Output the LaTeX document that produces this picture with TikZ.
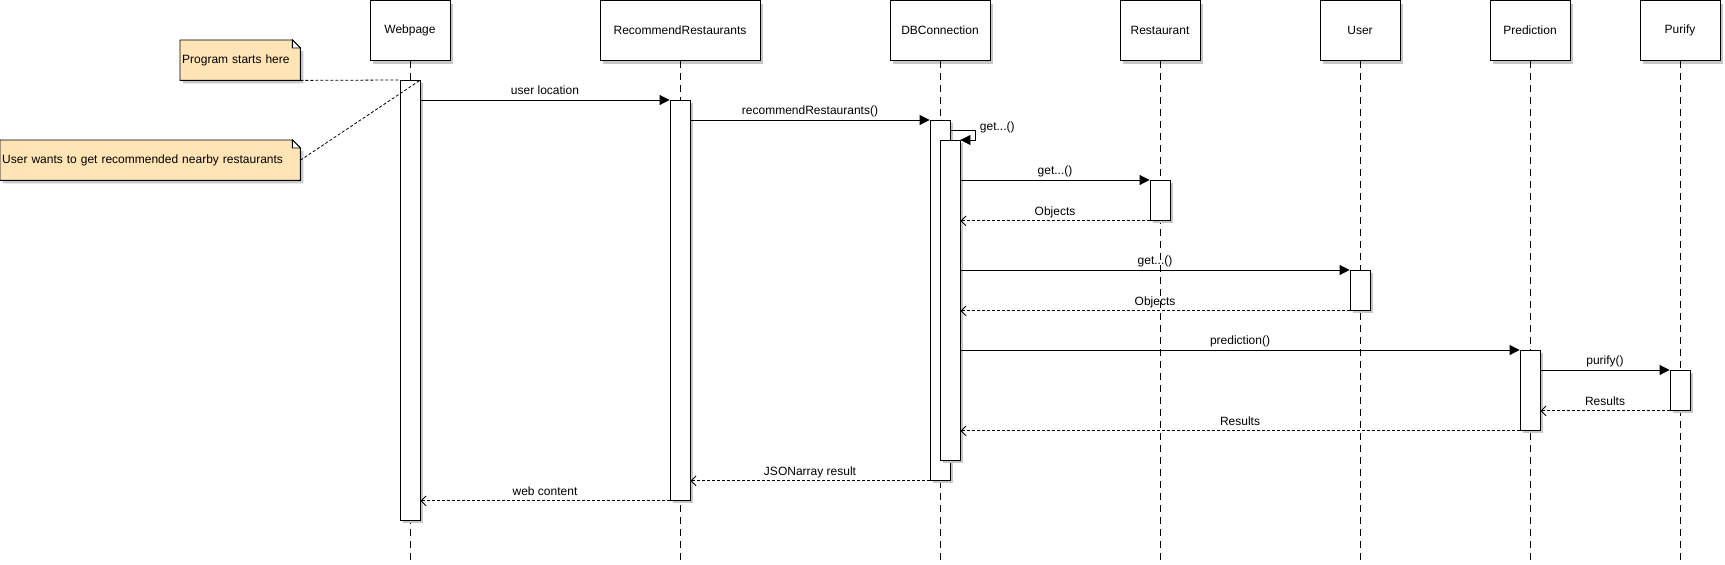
\documentclass[tikz,border=0pt]{standalone}
\usepackage{fontspec}
\setmainfont{Liberation Sans}
\usetikzlibrary{arrows.meta, positioning, shadows, backgrounds}
\definecolor{notefill}{HTML}{FFE4B5}
\tikzstyle{head} = [
rectangle, draw=black, fill=white, minimum height=60pt, inner sep=0pt, line width=0.9pt,
font=\fontsize{12}{14}\selectfont,
drop shadow={shadow xshift=3pt, shadow yshift=-3pt, fill=black!22, opacity=1}
]
\tikzstyle{act} = [
rectangle, draw=black, fill=white, minimum width=20pt, inner sep=0pt, anchor=north, line width=0.9pt,
drop shadow={shadow xshift=3pt, shadow yshift=-3pt, fill=black!22, opacity=1}
]
\tikzstyle{notebox} = [
rectangle, anchor=north west, minimum height=40pt, inner sep=2pt, align=left,
font=\fontsize{12}{14}\selectfont
]
\tikzstyle{lifeline} = [line width=0.8pt, dash pattern=on 7pt off 5pt]
\tikzstyle{noteline} = [line width=0.8pt, dash pattern=on 3pt off 2pt]
\tikzstyle{call} = [line width=0.9pt, -{Triangle[length=10pt,width=10pt]}]
\tikzstyle{reply} = [line width=0.9pt, dash pattern=on 3pt off 2pt, -{Straight Barb[length=5pt,width=10pt]}]
\tikzstyle{msg} = [midway, anchor=base, yshift=5.5pt, inner sep=0pt, font=\fontsize{12}{14}\selectfont]
\newcommand{\notefold}[1]{
  \fill[black!22] ([shift={(3pt,-3pt)}]#1.south west) -- ([shift={(3pt,-11pt)}]#1.north east) -- ([shift={(3pt,-3pt)}]#1.south east) -- cycle;
  \fill[black!22] ([shift={(3pt,-3pt)}]#1.south west) rectangle ([shift={(3pt,-11pt)}]#1.south east |- #1.north east);
  \filldraw[fill=notefill, draw=black, line width=0.9pt] (#1.south west) -- (#1.north west) -- ([xshift=-8pt]#1.north east)
    -- ([yshift=-8pt]#1.north east) -- (#1.south east) -- cycle;
  \filldraw[fill=white, draw=black, line width=0.9pt] ([xshift=-8pt]#1.north east) -- ([xshift=-8pt,yshift=-8pt]#1.north east)
    -- ([yshift=-8pt]#1.north east) -- cycle;
}

\begin{document}
\begin{tikzpicture}[x=1pt, y=-1pt]
	\useasboundingbox (0,0) rectangle (1725,565);
	\coordinate (bottom) at (0,565);

	% Lifeline heads
	\node (web) [head, minimum width=80pt] at (410,30.5) {Webpage};
	\node (rr) [head, minimum width=160pt] at (680,30.5) {RecommendRestaurants};
	\node (db) [head, minimum width=100pt] at (940,30.5) {DBConnection};
	\node (rest) [head, minimum width=80pt] at (1160,30.5) {Restaurant};
	\node (user) [head, minimum width=80pt] at (1360,30.5) {User};
	\node (pred) [head, minimum width=80pt] at (1530,30.5) {Prediction};
	\node (pur) [head, minimum width=80pt] at (1680,30.5) {Purify};

	% Lifelines
	\foreach \h in {web, rr, db, rest, user, pred, pur}
		\draw [lifeline] (\h.south) -- (\h.south |- bottom);

	% Activations
	\node (webAct) [act, minimum height=440pt] at (410,80) {};
	\node (rrAct) [act, minimum height=400pt] at (680,100) {};
	\node (dbAct) [act, minimum height=360pt] at (940,120) {};
	\node (dbSub) [act, minimum height=320pt] at (950,140) {};
	\node (restAct) [act, minimum height=40pt] at (1160,180) {};
	\node (userAct) [act, minimum height=40pt] at (1360,270) {};
	\node (predAct) [act, minimum height=80pt] at (1530,350) {};
	\node (purAct) [act, minimum height=40pt] at (1680,370) {};

	% Notes
	\node (note1) [notebox, text width=116pt] at (180,40) {Program starts here};
	\node (note2) [notebox, text width=296pt] at (0,140) {User wants to get recommended nearby restaurants};
	\begin{pgfonlayer}{background}
		\notefold{note1}
		\notefold{note2}
	\end{pgfonlayer}
	\draw [noteline] (note1.south east) -- (webAct.north west);
	\draw [noteline] (note2.east) -- (webAct.north east);

	% Calls
	\draw [call] (webAct.east |- rrAct.north) -- node[msg] {user location} (rrAct.north west);
	\draw [call] (rrAct.east |- dbAct.north) -- node[msg] {recommendRestaurants()} (dbAct.north west);
	\draw [call] ([yshift=-10pt]dbAct.north east) -- ++(25,0) node[anchor=base west, xshift=4pt, inner sep=0pt, font=\fontsize{12}{14}\selectfont] {get...()} |- (dbSub.north east);
	\draw [call] (dbSub.east |- restAct.north) -- node[msg] {get...()} (restAct.north west);
	\draw [call] (dbSub.east |- userAct.north) -- node[msg] {get...()} (userAct.north west);
	\draw [call] (dbSub.east |- predAct.north) -- node[msg] {prediction()} (predAct.north west);
	\draw [call] (predAct.east |- purAct.north) -- node[msg] {purify()} (purAct.north west);

	% Replies
	\draw [reply] (restAct.south west) -- node[msg] {Objects} (dbSub.east |- restAct.south);
	\draw [reply] (userAct.south west) -- node[msg] {Objects} (dbSub.east |- userAct.south);
	\draw [reply] (purAct.south west) -- node[msg] {Results} (predAct.east |- purAct.south);
	\draw [reply] (predAct.south west) -- node[msg] {Results} (dbSub.east |- predAct.south);
	\draw [reply] (dbAct.south west) -- node[msg] {JSONarray result} (rrAct.east |- dbAct.south);
	\draw [reply] (rrAct.south west) -- node[msg] {web content} (webAct.east |- rrAct.south);

\end{tikzpicture}
\end{document}
